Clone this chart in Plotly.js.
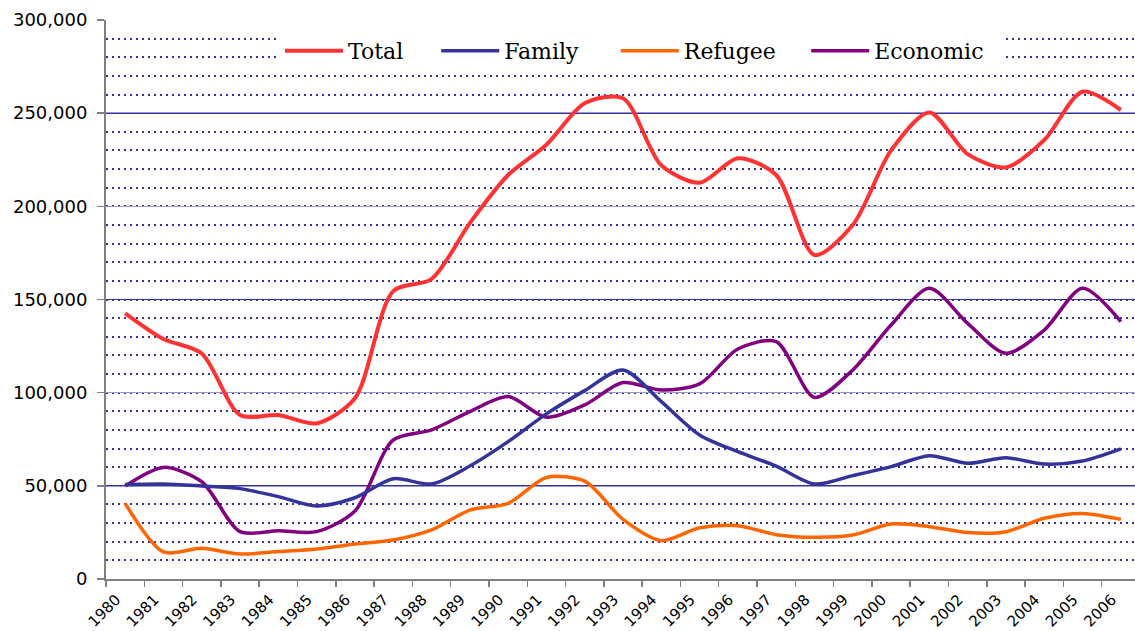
<!DOCTYPE html>
<html>
<head>
<meta charset="utf-8">
<script src="https://cdn.plot.ly/plotly-3.0.1.min.js"></script>
<style>
  html, body { margin: 0; padding: 0; background: #fff; }
  #chart { width: 1135px; height: 631px; }
</style>
</head>
<body>
<div id="chart"></div>
<script>
// Immigrant admissions by class, 1980-2006
const years = [1980, 1981, 1982, 1983, 1984, 1985, 1986, 1987, 1988, 1989,
               1990, 1991, 1992, 1993, 1994, 1995, 1996, 1997, 1998, 1999,
               2000, 2001, 2002, 2003, 2004, 2005, 2006];

const total = [142600, 128800, 121000, 88000, 88000, 83500, 97000, 154500, 161000, 191000,
               216800, 233000, 255300, 258000, 222000, 212700, 225800, 216800, 173900, 190000,
               230000, 250400, 228000, 220900, 235600, 261500, 251700];
const family = [50700, 51000, 49900, 48500, 44200, 39200, 43600, 53800, 51000, 60600,
                73700, 88600, 101100, 112200, 95200, 77300, 68300, 60600, 51000, 55500,
                60300, 66200, 62100, 65100, 61700, 63300, 69800];
const refugee = [40600, 14500, 16500, 13400, 14700, 16100, 18800, 20900, 26300, 37000,
                 40600, 54500, 52500, 32000, 20600, 27500, 28600, 23800, 22400, 23600,
                 29500, 28100, 24900, 25400, 32600, 35200, 32000];
const economic = [49900, 59900, 52200, 25400, 25900, 25400, 36500, 74600, 80000, 89800,
                  97900, 86800, 93400, 105400, 101400, 104700, 123400, 127400, 97500, 112200,
                  136300, 156000, 137200, 121100, 133600, 156000, 138100];

const seriesNames = ['Total', 'Family', 'Refugee', 'Economic'];
const seriesColors = ['#ff3333', '#333399', '#ff6600', '#800080'];
const seriesWidths = [4, 3.5, 3.5, 3.5];
const seriesValues = [total, family, refugee, economic];

// tick positions: labels at year centres, tick marks on the year boundaries
const yearLabels = years.map(String);
const boundaries = years.map(y => y - 0.5);
const valueTicks = [0, 50000, 100000, 150000, 200000, 250000, 300000];
const darkGridTicks = [50000, 150000, 250000];

// invisible trailing spaces widen the gaps between legend entries
const nb = '\u00a0', thin = '\u2009';
const legendPad = [nb.repeat(4), nb.repeat(4) + thin, nb.repeat(3) + thin, nb.repeat(2)];

const traces = seriesNames.map((name, i) => ({
    x: years,
    y: seriesValues[i],
    // Family sits on the overlaid twin axis so that axis (and its darker grid) gets drawn
    yaxis: name === 'Family' ? 'y2' : 'y',
    type: 'scatter',
    mode: 'lines',
    name: name + legendPad[i],
    line: { color: seriesColors[i], width: seriesWidths[i], shape: 'spline', smoothing: 0.8 },
    hoverinfo: 'skip',
}));

const axisGray = '#808080';
const gridBlue = '#333399';

const layout = {
    width: 1135,
    height: 631,
    paper_bgcolor: '#ffffff',
    plot_bgcolor: '#ffffff',
    margin: { l: 106, r: 0, t: 20, b: 52 },
    font: { family: 'DejaVu Sans, sans-serif', color: '#000000' },
    showlegend: true,
    legend: {
        orientation: 'h',
        x: 0.1691, xanchor: 'left',
        y: 0.982, yanchor: 'top',
        bgcolor: '#ffffff',
        borderwidth: 0,
        itemwidth: 58,
        font: { family: 'DejaVu Serif, serif', size: 22, color: '#000000' },
    },
    xaxis: {
        range: [1979.5, 2006.37],
        tickmode: 'array',
        tickvals: years,
        ticktext: yearLabels,
        ticks: '',
        tickangle: -45,
        ticklabelstandoff: 4,
        ticklabelshift: -9,
        tickfont: { family: 'DejaVu Sans, sans-serif', size: 15, color: '#000000' },
        showgrid: false,
        zeroline: false,
        showline: true,
        linecolor: axisGray,
        linewidth: 2,
        minor: {
            tickmode: 'array',
            tickvals: boundaries,
            ticks: 'outside',
            ticklen: 6,
            tickwidth: 1.5,
            tickcolor: axisGray,
            showgrid: false,
        },
    },
    yaxis: {
        range: [0, 300000],
        tickmode: 'array',
        tickvals: valueTicks,
        tickformat: ',d',
        ticks: 'outside',
        ticklen: 7,
        tickwidth: 1.5,
        tickcolor: axisGray,
        ticklabelstandoff: 6,
        tickfont: { family: 'DejaVu Sans, sans-serif', size: 18, color: '#000000' },
        showgrid: true,
        gridcolor: '#9999cc',
        gridwidth: 1.5,
        zeroline: false,
        showline: true,
        linecolor: axisGray,
        linewidth: 2,
        minor: {
            dtick: 10000,
            showgrid: true,
            gridcolor: gridBlue,
            gridwidth: 2,
            griddash: '2px,4px',
            ticks: '',
        },
    },
    // twin of yaxis: same range, only supplies the darker solid gridlines
    yaxis2: {
        overlaying: 'y',
        side: 'left',
        range: [0, 300000],
        tickmode: 'array',
        tickvals: darkGridTicks,
        showticklabels: false,
        ticks: '',
        showgrid: true,
        gridcolor: gridBlue,
        gridwidth: 1,
        zeroline: false,
        showline: false,
    },
};

Plotly.newPlot('chart', traces, layout, { displayModeBar: false, staticPlot: true });
</script>
</body>
</html>
